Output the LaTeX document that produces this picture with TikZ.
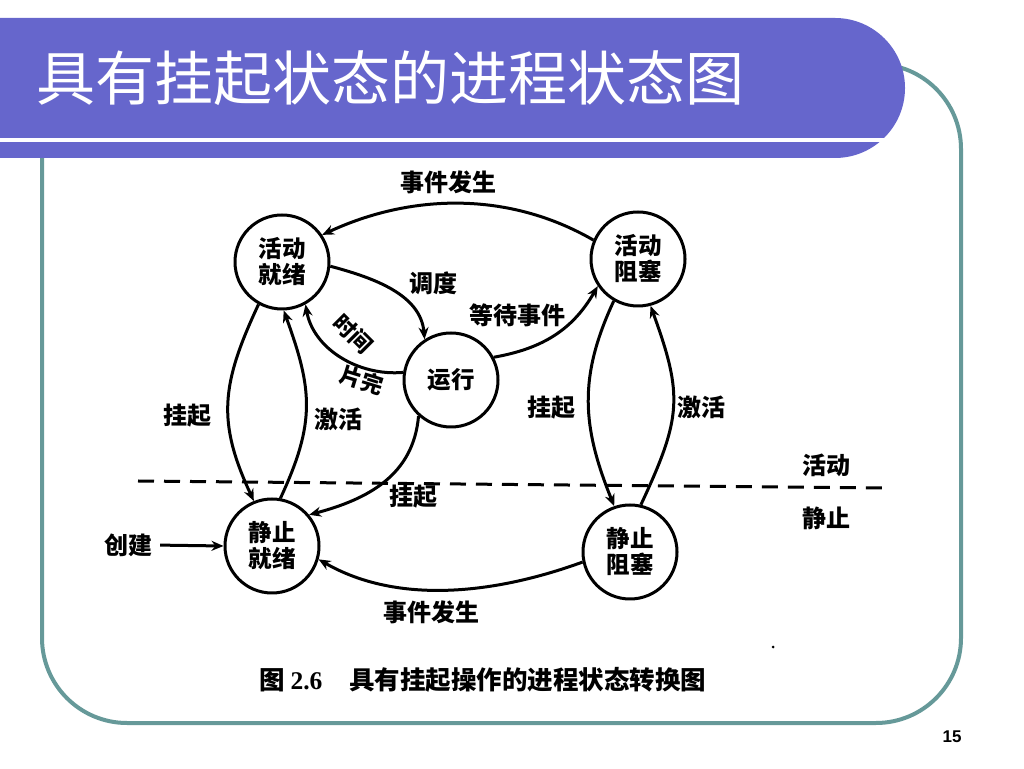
\documentclass[tikz,border=0pt]{standalone}
\usepackage{fontspec}
\usetikzlibrary{arrows.meta}
\setmainfont{Liberation Serif}
\newfontfamily\cjk{Noto Sans CJK SC}
\newfontfamily\pagefont{Liberation Sans}

\begin{document}
\begin{tikzpicture}[x=1pt, y=1pt, >={Stealth[length=12pt,width=10pt]}, line join=round,
  state/.style={draw, circle, line width=3pt, minimum size=94pt, inner sep=0pt, align=center,
    font=\cjk\bfseries\fontsize{23.5}{26}\selectfont},
  lbl/.style={inner sep=0pt, font=\cjk\bfseries\fontsize{24}{26}\selectfont},
  flow/.style={->, line width=3pt}]
  \definecolor{bandblue}{HTML}{6666CC}
  \definecolor{framegreen}{HTML}{669999}
  \useasboundingbox (0,0) rectangle (1024,768);
  % slide frame and title band
  \draw[framegreen, line width=4pt, rounded corners=85pt] (42,612) -- (42,45) -- (961,45) -- (961,704) -- (870,704);
  \fill[bandblue] (0,750) -- (835,750) arc[start angle=90, end angle=-90, radius=70] -- (0,610) -- cycle;
  \draw[white, line width=4pt] (0,627.5) -- (910,627.5);
  \node[anchor=base west, inner sep=0pt, text=white, font=\cjk\fontsize{59}{59}\selectfont] (title) at (36,667) {具有挂起状态的进程状态图};

  % states
  \node[state] (AR) at (282,506) {活动\\就绪};
  \node[state] (AB) at (638,509) {活动\\阻塞};
  \node[state] (run) at (451,388) {运行};
  \node[state] (SR) at (272,222) {静止\\就绪};
  \node[state] (SB) at (630,216) {静止\\阻塞};
  \node[lbl] (create) at (128,223) {创建};

  % transitions
  \draw[flow] (AB.157) to[out=150, in=25, distance=98pt] (AR.34);
  \draw[flow] (AR.-5) to[out=-15, in=95, distance=45pt] (run.123);
  \draw[flow] (run.171) to[out=185, in=-80, distance=45pt] (AR.-61);
  \draw[flow] (run.28) to[out=10, in=240, distance=50pt] (AB.214);
  \draw[flow] (AR.241) to[out=245, in=115, distance=88pt] (SR.112);
  \draw[flow] (SR.80) to[out=65, in=-70, distance=84pt] (AR.-88);
  \draw[flow] (run.228) to[out=265, in=15, distance=60pt] (SR.40);
  \draw[flow] (SB.192) to[out=200, in=-30, distance=92pt] (SR.-16);
  \draw[flow] (AB.240) to[out=245, in=112, distance=85pt] (SB.109);
  \draw[flow] (SB.77) to[out=65, in=-70, distance=96pt] (AB.-75);
  \draw[flow, shorten <=8pt] (create.east) -- (SR.west);

  % active / static border
  \coordinate (borderL) at (138,287);
  \coordinate (borderR) at (890,280);
  \draw[line width=3pt, dash pattern=on 16pt off 10pt] (borderL) -- (borderR);

  % labels
  \node[lbl] (evtop) at (448,586) {事件发生};
  \node[lbl] (sched) at (433,485) {调度};
  \node[lbl, rotate=-45, font=\cjk\bfseries\fontsize{22}{24}\selectfont] (slice1) at (353,434) {时间};
  \node[lbl, rotate=-17, font=\cjk\bfseries\fontsize{22}{24}\selectfont] (slice2) at (362,388) {片完};
  \node[lbl] (wait) at (517,453) {等待事件};
  \node[lbl] (suspL) at (187,352) {挂起};
  \node[lbl] (actL) at (338,349) {激活};
  \node[lbl] (suspR) at (413,271) {挂起};
  \node[lbl] (suspB) at (551,360) {挂起};
  \node[lbl] (actB) at (701,361) {激活};
  \node[lbl] (evbot) at (431,156) {事件发生};
  \node[lbl] (active) at (826,303) {活动};
  \node[lbl] (static) at (826,250) {静止};
  \fill (773,121) circle (1.5pt);

  % caption and page number
  \node[anchor=west, inner sep=0pt, font=\cjk\bfseries\fontsize{25.5}{26}\selectfont] (caption) at (259,88) {图 {\rmfamily\bfseries 2.6}\hspace{27pt}具有挂起操作的进程状态转换图};
  \node[inner sep=0pt, font=\pagefont\bfseries\fontsize{17}{17}\selectfont] (pagenum) at (952,31) {15};
\end{tikzpicture}
\end{document}
